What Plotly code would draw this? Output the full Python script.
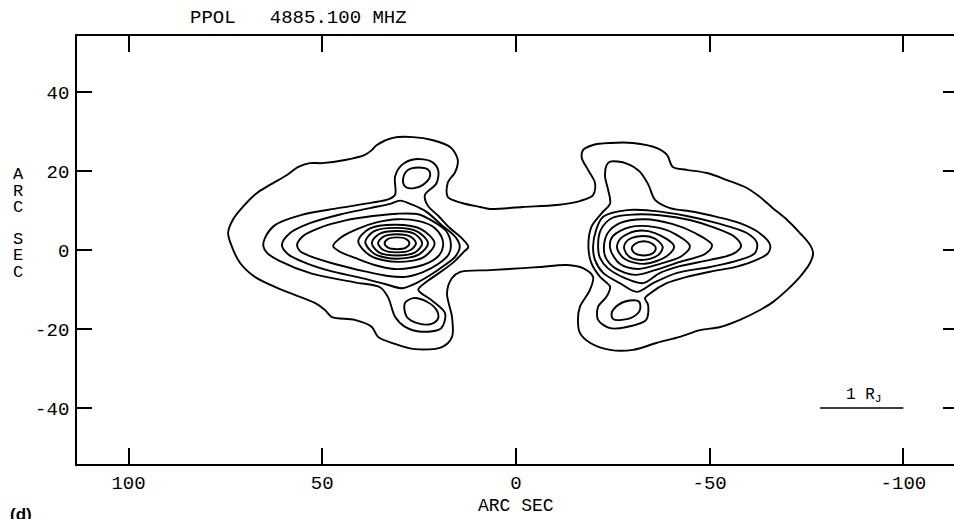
import plotly.graph_objects as go

# ---------------- data (arc sec) ----------------
X_TICKS = [100, 50, 0, -50, -100]
Y_TICKS = [40, 20, 0, -20, -40]

# outermost contour enclosing both lobes
OUTER = [(74.3,4.3),(73.1,7.6),(70.5,10.9),(66.9,14.4),(63.5,16.5),(59.1,19.0),(56.3,21.0),(53.2,22.0),
         (50.1,22.0),(44.1,22.8),(39.0,24.1),(37.2,25.3),(35.9,26.6),(31.8,28.4),(26.6,28.6),(21.4,27.8),
         (17.0,26.1),(15.2,23.5),(15.0,22.0),(15.7,19.7),(17.6,17.0),(17.6,13.4),(13.9,11.9),(9.3,10.9),
         (6.7,10.4),(-1.8,10.9),(-10.6,11.4),(-16.5,12.4),(-19.9,13.9),(-20.4,17.0),(-18.6,20.3),(-17.0,23.3),
         (-17.3,25.3),(-19.9,26.6),(-24.3,27.1),(-30.2,27.1),(-36.4,25.8),(-39.0,24.1),(-40.5,21.0),(-44.1,20.3),
         (-49.3,19.5),(-54.5,17.7),(-59.6,15.7),(-63.0,13.4),(-66.3,10.6),(-70.0,7.6),(-73.3,4.3),(-75.9,1.3),
         (-76.7,-0.8),(-75.9,-3.3),(-73.3,-6.8),(-70.0,-10.1),(-66.3,-13.2),(-63.0,-15.2),(-57.8,-17.7),
         (-52.7,-19.5),(-47.5,-20.3),(-42.3,-22.0),(-36.4,-23.5),(-30.2,-25.3),(-24.3,-25.3),(-19.1,-23.5),
         (-16.5,-21.0),(-16.0,-17.7),(-16.5,-14.4),(-19.1,-10.1),(-19.9,-6.8),(-17.3,-4.6),(-13.2,-3.8),
         (-6.2,-4.3),(-1.8,-4.6),(6.7,-5.1),(14.5,-5.6),(16.5,-7.1),(17.8,-10.9),(16.5,-17.0),(16.5,-22.0),
         (19.1,-24.6),(26.1,-25.1),(31.2,-23.8),(35.6,-22.0),(37.2,-19.5),(41.6,-17.7),(47.5,-17.0),
         (49.3,-15.2),(51.9,-13.4),(60.4,-10.1),(67.4,-6.8),(71.2,-3.3),(73.3,0.8)]

# east (left) lobe
EAST_L1 = [(65.2,1.0),(64.8,3.0),(62.2,6.3),(55.3,8.9),(45.9,10.6),(37.2,12.0),(33.0,12.8),(31.2,14.0),
           (31.2,18.6),(29.5,21.5),(26.1,23.0),(21.8,22.4),(20.1,20.3),(20.5,16.9),(23.5,13.9),(22.8,11.3),
           (20.0,8.6),(17.0,5.5),(14.0,3.0),(12.3,0.8),(13.6,-0.6),(16.0,-3.0),(19.2,-5.4),(23.0,-8.0),
           (25.2,-10.1),(21.8,-12.7),(18.3,-16.0),(19.3,-19.8),(24.3,-20.7),(28.7,-19.4),(31.2,-16.9),
           (33.0,-12.0),(35.0,-9.5),(41.6,-8.2),(52.7,-6.0),(60.9,-2.8),(64.2,-0.8)]
EAST_L2 = [(60.4,1.3),(58.3,4.3),(53.2,6.8),(45.4,9.0),(37.7,10.6),(32.5,11.7),(29.9,12.5),(26.6,11.4),
           (23.0,9.6),(19.5,6.6),(15.4,3.0),(14.5,0.8),(15.6,-1.6),(18.6,-4.0),(22.5,-6.6),(26.4,-8.7),
           (29.4,-9.7),(33.8,-8.6),(40.3,-7.0),(48.0,-5.3),(54.5,-3.2),(58.9,-1.0)]
EAST_SPOT_N = [(29.1,18.2),(27.8,20.3),(25.2,20.9),(22.6,20.3),(22.2,18.6),(24.0,16.5),(26.6,15.6),(28.7,16.2)]
EAST_SPOT_S = [(28.7,-13.5),(26.5,-12.2),(23.0,-13.1),(20.5,-15.2),(20.1,-17.3),(21.8,-18.7),(25.2,-18.6),(28.2,-16.9)]
EAST_L3 = [(56.5,1.3),(55.0,3.5),(51.0,5.5),(44.0,7.5),(37.0,8.6),(30.5,9.2),(25.0,9.0),(21.8,7.5),
           (18.0,4.8),(16.8,1.5),(17.3,-1.0),(20.0,-3.5),(24.0,-5.6),(28.5,-6.8),(33.0,-6.6),(39.0,-5.4),
           (46.5,-3.6),(53.0,-1.6),(55.8,-0.2)]
EAST_L4 = [(47.2,1.0),(45.0,3.3),(41.0,5.3),(36.0,7.0),(30.5,7.8),(25.0,7.3),(21.3,5.8),(19.2,3.3),
           (18.8,1.0),(19.8,-1.3),(22.5,-3.2),(27.0,-4.5),(31.5,-4.8),(36.5,-3.8),(41.5,-2.0),(45.3,-0.5)]
EAST_L5 = [(40.7,2.2),(37.8,5.4),(31.0,6.4),(24.5,5.3),(21.0,1.7),(23.8,-1.8),(30.5,-3.0),(37.5,-1.5)]
EAST_L6 = [(38.9,2.0),(36.7,4.7),(30.9,5.6),(25.3,4.6),(22.7,1.7),(25.0,-1.1),(30.7,-2.2),(36.5,-1.0)]
EAST_L7 = [(37.2,1.8),(35.4,4.0),(30.7,4.8),(26.0,4.0),(24.2,1.7),(26.0,-0.6),(30.7,-1.4),(35.4,-0.6)]
EAST_L8 = [(35.6,1.7),(34.2,3.4),(30.7,4.0),(27.2,3.4),(25.8,1.7),(27.2,0.0),(30.7,-0.6),(34.2,0.0)]
EAST_L9 = [(33.9,1.7),(33.0,2.8),(30.7,3.2),(28.4,2.8),(27.5,1.7),(28.4,0.6),(30.7,0.2),(33.0,0.6)]

# west (right) lobe
WEST_L1 = [(-18.7,0.8),(-19.5,5.9),(-22.1,9.3),(-24.3,11.8),(-23.8,15.2),(-23.0,18.6),(-23.4,21.5),
           (-24.3,22.4),(-28.6,21.9),(-32.0,19.8),(-34.2,16.5),(-35.9,12.7),(-39.8,10.6),(-45.8,9.7),
           (-51.8,8.4),(-57.8,6.8),(-63.0,4.2),(-65.6,1.3),(-65.1,-0.8),(-62.1,-2.5),(-57.0,-4.2),
           (-50.1,-5.5),(-44.1,-6.8),(-38.9,-8.4),(-34.6,-11.0),(-33.3,-12.2),(-34.1,-13.9),(-33.6,-17.7),
           (-28.6,-19.5),(-24.3,-19.8),(-21.2,-17.7),(-21.2,-14.4),(-23.4,-11.8),(-24.3,-9.3),(-21.7,-6.8),
           (-19.5,-3.4)]
WEST_SPOT_S = [(-24.7,-16.0),(-26.4,-13.9),(-29.4,-12.8),(-31.8,-13.1),(-32.0,-15.2),(-30.3,-16.9),
               (-27.3,-17.7),(-25.1,-17.5)]
WEST_L2 = [(-19.9,0.8),(-20.7,5.1),(-22.5,8.4),(-28.7,10.1),(-35.4,9.9),(-44.1,8.6),(-51.9,6.8),
           (-59.6,4.3),(-62.2,1.8),(-61.7,-0.8),(-57.8,-2.5),(-50.1,-4.3),(-41.6,-5.8),(-35.4,-8.4),
           (-31.2,-10.6),(-26.8,-8.4),(-22.5,-5.8),(-20.4,-2.5)]
WEST_L3 = [(-21.2,0.8),(-21.9,5.1),(-24.8,8.1),(-30.7,9.0),(-37.2,8.8),(-44.9,7.6),(-51.4,5.6),
           (-56.5,3.3),(-58.1,1.0),(-56.0,-1.0),(-50.1,-2.5),(-42.3,-4.1),(-37.2,-5.8),(-32.8,-8.4),
           (-28.1,-7.1),(-23.7,-4.6),(-21.7,-2.0)]
WEST_L4 = [(-22.7,0.8),(-23.7,4.3),(-26.8,6.8),(-33.3,7.8),(-40.3,6.6),(-46.2,4.3),(-50.6,1.3),
           (-48.8,-1.0),(-42.3,-3.0),(-35.9,-5.1),(-30.7,-6.3),(-25.6,-4.6),(-23.2,-2.0)]
WEST_L5 = [(-24.3,0.5),(-25.0,3.5),(-29.4,5.8),(-35.9,5.8),(-41.0,4.1),(-44.9,1.0),(-42.8,-1.5),
           (-37.2,-3.5),(-31.5,-4.8),(-26.8,-3.5)]
WEST_L6 = [(-26.1,0.5),(-27.1,3.0),(-31.0,4.8),(-35.9,4.3),(-40.8,1.0),(-39.0,-1.5),(-33.3,-3.5),(-28.1,-2.3)]
WEST_L7 = [(-27.9,0.5),(-28.9,2.5),(-32.0,3.5),(-35.6,3.0),(-37.9,0.8),(-36.7,-1.3),(-33.0,-2.5),(-29.4,-1.8)]
WEST_L8 = [(-29.9,0.4),(-30.8,1.6),(-33.0,2.2),(-35.2,1.6),(-36.1,0.4),(-35.2,-0.9),(-33.0,-1.4),(-30.8,-0.9)]

CONTOURS = [OUTER,
            EAST_L1, EAST_L2, EAST_SPOT_N, EAST_SPOT_S, EAST_L3, EAST_L4,
            EAST_L5, EAST_L6, EAST_L7, EAST_L8, EAST_L9,
            WEST_L1, WEST_SPOT_S, WEST_L2, WEST_L3, WEST_L4,
            WEST_L5, WEST_L6, WEST_L7, WEST_L8]

# scale bar: 1 Jupiter radius
SCALE_BAR_X = [-78.5, -100.0]
SCALE_BAR_Y = [-40.0, -40.0]
SCALE_LABEL = "1 R<sub>J</sub>"

TITLE = "PPOL\u00a0\u00a0\u00a04885.100 MHZ"
X_TITLE = "ARC SEC"
Y_TITLE_LETTERS = ["A", "R", "C", "S", "E", "C"]
PANEL = "<b>(d)</b>"

MONO = "Liberation Mono, Courier New, monospace"

fig = go.Figure()
for pts in CONTOURS:
    xs = [p[0] for p in pts] + [pts[0][0]]
    ys = [p[1] for p in pts] + [pts[0][1]]
    fig.add_trace(go.Scatter(x=xs, y=ys, mode="lines",
                             line=dict(color="black", width=1.9, shape="spline", smoothing=0.9),
                             showlegend=False, hoverinfo="skip"))

fig.add_trace(go.Scatter(x=SCALE_BAR_X, y=SCALE_BAR_Y, mode="lines",
                         line=dict(color="black", width=1.6), showlegend=False, hoverinfo="skip"))

# layout geometry (pixels)
W, H = 970, 519
L, R, T, B = 77, 12, 36, 55
PW = W - L - R
PH = H - T - B
X_RANGE = [113.3, -114.1]
Y_RANGE = [-54.2, 54.2]

def px_x(px):
    return (px - L) / PW

def px_y(py):
    return (H - B - py) / PH

tickfont = dict(family=MONO, size=19, color="black")

fig.update_layout(
    width=W, height=H,
    margin=dict(l=L, r=R, t=T, b=B),
    paper_bgcolor="white", plot_bgcolor="white",
    xaxis=dict(range=X_RANGE, tickvals=X_TICKS, ticktext=[str(v) for v in X_TICKS],
               showline=True, linecolor="black", linewidth=1.8, mirror="ticks",
               ticks="inside", tickcolor="black", tickwidth=1.6, ticklen=16,
               ticklabelstandoff=0, showgrid=False, zeroline=False, tickfont=tickfont),
    yaxis=dict(range=Y_RANGE, tickvals=Y_TICKS, ticktext=[str(v) for v in Y_TICKS],
               showline=True, linecolor="black", linewidth=1.8, mirror=False,
               ticks="inside", tickcolor="black", tickwidth=1.6, ticklen=15,
               ticklabelstandoff=2, showgrid=False, zeroline=False, tickfont=tickfont),
    yaxis2=dict(range=Y_RANGE, tickvals=Y_TICKS, overlaying="y", side="right",
                showline=False, ticks="inside", tickcolor="black", tickwidth=1.6, ticklen=15,
                showticklabels=False, showgrid=False, zeroline=False),
)
# invisible trace to activate the right-hand tick axis
fig.add_trace(go.Scatter(x=[X_RANGE[0]], y=[Y_RANGE[0]], yaxis="y2", mode="markers",
                         marker=dict(opacity=0), showlegend=False, hoverinfo="skip"))

ann = []
ann.append(dict(text=TITLE, xref="paper", yref="paper", x=px_x(188), y=px_y(18),
                xanchor="left", yanchor="middle", showarrow=False,
                font=dict(family=MONO, size=19, color="black")))
ann.append(dict(text=X_TITLE, xref="x", yref="paper", x=0, y=px_y(506),
                xanchor="center", yanchor="middle", showarrow=False,
                font=dict(family=MONO, size=18, color="black")))
for letter, py in zip(Y_TITLE_LETTERS, [174, 191, 207, 239, 256, 272]):
    ann.append(dict(text=letter, xref="paper", yref="paper", x=px_x(18), y=px_y(py),
                    xanchor="center", yanchor="middle", showarrow=False,
                    font=dict(family=MONO, size=17, color="black")))
ann.append(dict(text=PANEL, xref="paper", yref="paper", x=px_x(8), y=px_y(503),
                xanchor="left", yanchor="top", showarrow=False,
                font=dict(family="Liberation Sans, Arial, sans-serif", size=17, color="black")))
ann.append(dict(text=SCALE_LABEL, xref="x", yref="y", x=-89.8, y=-36.8,
                xanchor="center", yanchor="middle", showarrow=False,
                font=dict(family=MONO, size=16, color="black")))
fig.update_layout(annotations=ann)

fig.write_html("out.html", config={"displayModeBar": False},
               post_script="document.body.style.margin='0';document.body.style.overflow='hidden';")
